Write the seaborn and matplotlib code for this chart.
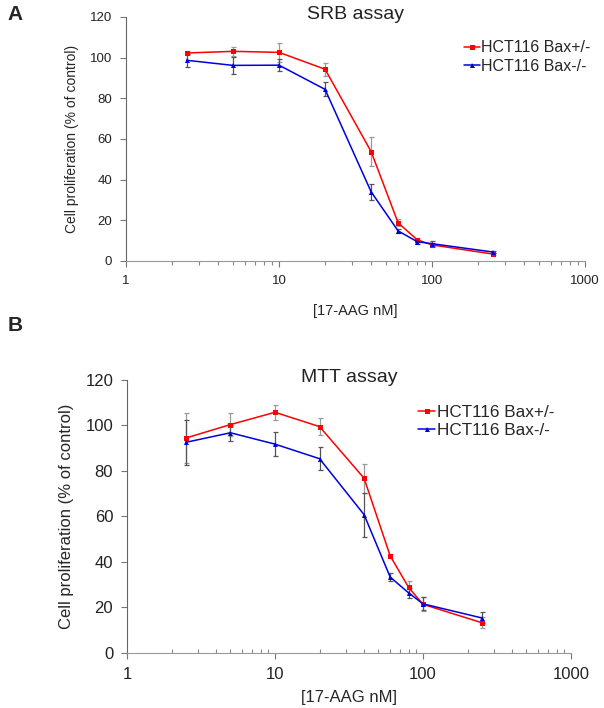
import pandas as pd
import numpy as np
import matplotlib
matplotlib.use("Agg")
import matplotlib.pyplot as plt
import seaborn as sns

# drug concentrations (nM)
doses = [2.5, 5, 10, 20, 40, 60, 80, 100, 250]
series_names = ["HCT116 Bax+/-", "HCT116 Bax-/-"]

# SRB assay values (% of control) and error bars
srb_bax_het = [102.3, 103.1, 102.6, 94.3, 53.8, 18.8, 10.4, 7.9, 3.4]
srb_bax_het_err = [1.0, 2.2, 4.7, 3.2, 7.0, 1.8, 1.0, 1.0, 0.6]
srb_bax_ko = [98.7, 96.2, 96.3, 84.4, 34.0, 14.8, 9.5, 8.5, 4.4]
srb_bax_ko_err = [3.2, 4.2, 3.0, 3.4, 3.8, 1.0, 1.0, 1.2, 0.6]

# MTT assay values (% of control) and error bars
mtt_bax_het = [94.5, 100.4, 105.8, 99.5, 76.8, 42.7, 28.8, 21.4, 13.3]
mtt_bax_het_err = [11.0, 5.0, 3.4, 3.8, 6.4, 1.0, 3.0, 3.0, 2.4]
mtt_bax_ko = [92.6, 96.8, 91.8, 85.4, 60.8, 33.4, 26.4, 21.6, 15.4]
mtt_bax_ko_err = [9.8, 3.6, 5.4, 5.0, 9.6, 1.6, 2.2, 2.8, 2.4]

colors = {"HCT116 Bax+/-": "#ff0000", "HCT116 Bax-/-": "#0000dd"}
markers = {"HCT116 Bax+/-": "s", "HCT116 Bax-/-": "^"}
err_colors = {"HCT116 Bax+/-": "#999999", "HCT116 Bax-/-": "#555555"}

sns.set_style("white")
plt.rcParams["font.family"] = ["Liberation Sans", "DejaVu Sans"]


def make_df(het, ko):
    # long format table for seaborn
    df = pd.DataFrame({
        "dose": doses * 2,
        "value": het + ko,
        "line": [series_names[0]] * len(doses) + [series_names[1]] * len(doses),
    })
    return df


def draw_panel(ax, het, het_err, ko, ko_err, title, sizes, legend_anchor, minor_dir, xpad, title_y):
    tick_fs, ylab_fs, xlab_fs, leg_fs = sizes
    df = make_df(het, ko)
    sns.lineplot(data=df, x="dose", y="value", hue="line", style="line",
                 palette=colors, markers=markers, dashes=False, ax=ax,
                 linewidth=1.1, markersize=3.6, markeredgewidth=0,
                 errorbar=None, legend=True)
    for name, vals, errs in [(series_names[0], het, het_err), (series_names[1], ko, ko_err)]:
        ax.errorbar(doses, vals, yerr=errs, fmt="none", ecolor=err_colors[name],
                    elinewidth=0.9, capsize=1.8, capthick=0.9, zorder=1)
    ax.set_xscale("log")
    ax.set_xlim(1, 1000)
    ax.set_ylim(0, 120)
    ax.set_xticks([1, 10, 100, 1000])
    ax.set_xticklabels(["1", "10", "100", "1000"])
    ax.set_yticks(range(0, 121, 20))
    ax.tick_params(axis="both", which="both", bottom=True, left=True)
    ax.tick_params(axis="both", labelsize=tick_fs, colors="#222222")
    ax.tick_params(axis="y", direction="out", length=4, width=0.8, color="#777777", pad=6)
    ax.tick_params(axis="x", which="major", direction="out", length=4, width=0.8, color="#777777", pad=6)
    ax.tick_params(axis="x", which="minor", direction=minor_dir, length=3, width=0.8, color="#888888")
    for side in ["top", "right"]:
        ax.spines[side].set_visible(False)
    ax.spines["left"].set_color("#666666")
    ax.spines["bottom"].set_color("#999999")
    # fixed y so matplotlib does not push the title above the tick labels
    ax.set_title(title, fontsize=14, pad=0, y=title_y, color="#222222")
    ax.set_xlabel("[17-AAG nM]", fontsize=xlab_fs, labelpad=xpad)
    ax.set_ylabel("Cell proliferation (% of control)", fontsize=ylab_fs, labelpad=8)
    leg = ax.legend(loc="upper left", bbox_to_anchor=legend_anchor, frameon=False,
                    fontsize=leg_fs, handlelength=1.0, handletextpad=0.1,
                    labelspacing=0.2, borderaxespad=0)
    leg.set_title(None)


fig = plt.figure(figsize=(6.04, 7.08), dpi=100)
ax_a = fig.add_axes([0.2086, 0.6314, 0.760, 0.3446])
ax_b = fig.add_axes([0.2103, 0.0777, 0.735, 0.3856])

draw_panel(ax_a, srb_bax_het, srb_bax_het_err, srb_bax_ko, srb_bax_ko_err,
           "SRB assay", (9.5, 10, 10.5, 11.5), (0.722, 0.93), "out", 12, 0.992)
draw_panel(ax_b, mtt_bax_het, mtt_bax_het_err, mtt_bax_ko, mtt_bax_ko_err,
           "MTT assay", (12, 12, 12, 12.3), (0.64, 0.935), "in", 6, 0.993)

fig.text(0.013, 0.972, "A", fontsize=15, fontweight="bold")
fig.text(0.013, 0.532, "B", fontsize=15, fontweight="bold")

fig.savefig("out.png", dpi=100)
